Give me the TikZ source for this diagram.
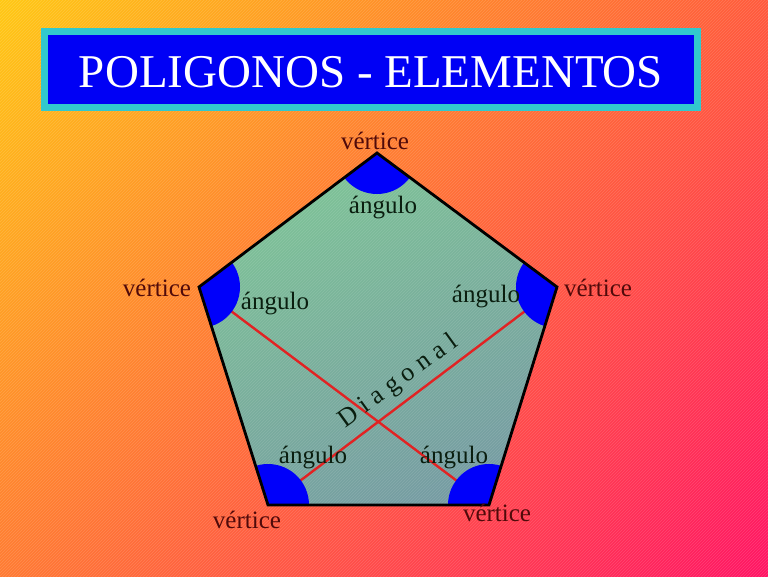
\documentclass[tikz,border=0pt]{standalone}
\usepackage{fontspec}
\setmainfont{Liberation Serif}
\usetikzlibrary{patterns,shadings}
\definecolor{bgTL}{RGB}{255,200,20}
\definecolor{bgTR}{RGB}{255,90,60}
\definecolor{bgBL}{RGB}{255,122,50}
\definecolor{bgBR}{RGB}{255,20,100}
\definecolor{titleblue}{RGB}{0,0,245}
\definecolor{titlecyan}{RGB}{50,200,205}
\definecolor{pentop}{RGB}{126,196,150}
\definecolor{penbot}{RGB}{118,156,162}
\definecolor{sectorblue}{RGB}{0,0,250}
\definecolor{diagred}{RGB}{225,35,35}
\definecolor{vertcol}{RGB}{80,10,10}
\definecolor{angcol}{RGB}{10,30,15}
\tikzset{
  lbl/.style={inner sep=0pt, anchor=base, font=\fontsize{25}{30}\selectfont},
  vlabel/.style={lbl, text=vertcol},
  alabel/.style={lbl, text=angcol},
  diagline/.style={draw=diagred, line width=2.4pt},
  sector/.style={fill=sectorblue},
  outline/.style={draw=black, line width=2.8pt, line join=miter},
}
\begin{document}
\begin{tikzpicture}[x=1pt,y=1pt]
\useasboundingbox (0,0) rectangle (768,576);
% background
\shade[upper left=bgTL, upper right=bgTR, lower left=bgBL, lower right=bgBR] (0,0) rectangle (768,576);
\fill[pattern=north east lines, pattern color=white, opacity=0.15] (0,0) rectangle (768,576);
% title
\draw[draw=titlecyan, fill=titleblue, line width=7pt] (44.5,468.5) rectangle (697.5,544.5);
\node[inner sep=0pt, anchor=base, text=white, font=\fontsize{47}{56}\selectfont] (title) at (371,488) {POLIGONOS - ELEMENTOS};
% pentagon vertices
\coordinate (T) at (377,423);
\coordinate (L) at (199,289);
\coordinate (R) at (557,289);
\coordinate (BL) at (268,71);
\coordinate (BR) at (489,71);
% fill
\shade[top color=pentop, bottom color=penbot, shading angle=25] (T) -- (R) -- (BR) -- (BL) -- (L) -- cycle;
\fill[pattern=north east lines, pattern color=white, opacity=0.12] (T) -- (R) -- (BR) -- (BL) -- (L) -- cycle;
% diagonals
\draw[diagline] (L) -- (BR);
\draw[diagline] (R) -- (BL);
% angle sectors
\begin{scope}
\clip (T) -- (R) -- (BR) -- (BL) -- (L) -- cycle;
\foreach \v in {T,L,R,BL,BR} {\fill[sector] (\v) circle (41);}
\end{scope}
% outline
\draw[outline] (T) -- (R) -- (BR) -- (BL) -- (L) -- cycle;
% labels
\node[vlabel] (vT) at (375,426) {vértice};
\node[alabel] (aT) at (383,362) {ángulo};
\node[vlabel] (vL) at (157,279) {vértice};
\node[alabel] (aL) at (275,266) {ángulo};
\node[alabel] (aR) at (486,273) {ángulo};
\node[vlabel] (vR) at (598,279) {vértice};
\node[alabel] (aBL) at (313,113) {ángulo};
\node[vlabel] (vBL) at (247,48) {vértice};
\node[alabel] (aBR) at (454,113) {ángulo};
\node[vlabel] (vBR) at (497,55) {vértice};
\node[alabel, rotate=36, font=\fontsize{26}{30}\selectfont] (diag) at (402,189) {D i a g o n a l};
\end{tikzpicture}
\end{document}
